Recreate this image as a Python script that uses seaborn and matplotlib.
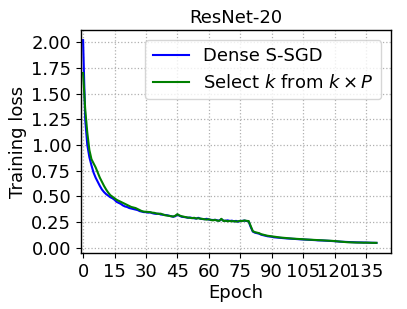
import matplotlib
matplotlib.use("Agg")
import matplotlib.pyplot as plt
import seaborn as sns
import pandas as pd
from matplotlib.ticker import MultipleLocator

epochs = list(range(0, 141))

dense_ssgd = [
    2.02, 1.25, 1.00, 0.88, 0.80, 0.73, 0.68, 0.64, 0.60, 0.565,
    0.54, 0.52, 0.505, 0.49, 0.48, 0.465, 0.445, 0.435, 0.425, 0.41,
    0.40, 0.395, 0.385, 0.38, 0.375, 0.37, 0.365, 0.355, 0.35, 0.345,
    0.345, 0.34, 0.342, 0.335, 0.33, 0.328, 0.33, 0.322, 0.32, 0.318,
    0.315, 0.31, 0.305, 0.30, 0.305, 0.32, 0.31, 0.30, 0.298, 0.295,
    0.29, 0.292, 0.288, 0.285, 0.282, 0.29, 0.28, 0.278, 0.276, 0.28,
    0.272, 0.27, 0.268, 0.27, 0.265, 0.262, 0.275, 0.262, 0.26, 0.265,
    0.258, 0.262, 0.255, 0.26, 0.252, 0.258, 0.26, 0.262, 0.258, 0.255,
    0.20, 0.155, 0.145, 0.14, 0.135, 0.125, 0.12, 0.115, 0.11, 0.108,
    0.105, 0.10, 0.098, 0.096, 0.095, 0.093, 0.09, 0.089, 0.088, 0.087,
    0.085, 0.084, 0.082, 0.081, 0.08, 0.079, 0.078, 0.077, 0.075, 0.074,
    0.073, 0.072, 0.07, 0.07, 0.069, 0.068, 0.067, 0.066, 0.065, 0.064,
    0.062, 0.06, 0.058, 0.057, 0.056, 0.055, 0.054, 0.053, 0.052, 0.052,
    0.051, 0.05, 0.05, 0.049, 0.049, 0.048, 0.048, 0.047, 0.047, 0.046,
    0.045,
]

select_k = [
    1.70, 1.35, 1.12, 0.95, 0.86, 0.82, 0.78, 0.73, 0.68, 0.64,
    0.60, 0.565, 0.535, 0.51, 0.495, 0.48, 0.465, 0.455, 0.445, 0.435,
    0.425, 0.415, 0.405, 0.395, 0.39, 0.385, 0.375, 0.365, 0.355, 0.35,
    0.348, 0.345, 0.345, 0.34, 0.338, 0.332, 0.328, 0.33, 0.322, 0.315,
    0.312, 0.308, 0.305, 0.302, 0.31, 0.325, 0.312, 0.305, 0.30, 0.296,
    0.292, 0.29, 0.286, 0.29, 0.283, 0.285, 0.282, 0.278, 0.275, 0.272,
    0.276, 0.268, 0.265, 0.27, 0.262, 0.26, 0.28, 0.258, 0.262, 0.255,
    0.26, 0.255, 0.258, 0.252, 0.256, 0.26, 0.258, 0.264, 0.26, 0.258,
    0.21, 0.16, 0.15, 0.145, 0.14, 0.13, 0.125, 0.12, 0.115, 0.112,
    0.108, 0.105, 0.102, 0.10, 0.098, 0.096, 0.094, 0.092, 0.09, 0.089,
    0.087, 0.086, 0.085, 0.083, 0.082, 0.08, 0.079, 0.078, 0.077, 0.076,
    0.075, 0.074, 0.072, 0.071, 0.07, 0.069, 0.068, 0.067, 0.066, 0.065,
    0.063, 0.061, 0.059, 0.057, 0.055, 0.053, 0.052, 0.051, 0.05, 0.05,
    0.049, 0.049, 0.048, 0.048, 0.047, 0.048, 0.047, 0.047, 0.046, 0.046,
    0.046,
]

series_labels = ["Dense S-SGD", r"Select $k$ from $k \times P$"]
series_colors = ["blue", "green"]
title = "ResNet-20"
xlabel = "Epoch"
ylabel = "Training loss"

df = pd.concat([
    pd.DataFrame({"Epoch": epochs, "loss": dense_ssgd, "method": series_labels[0]}),
    pd.DataFrame({"Epoch": epochs, "loss": select_k, "method": series_labels[1]}),
])

plt.rcParams["font.family"] = ["DejaVu Sans"]
fs = 13

fig = plt.figure(figsize=(4.07, 3.09), dpi=100)
ax = fig.add_axes([0.199, 0.181, 0.762, 0.722])

sns.lineplot(data=df, x="Epoch", y="loss", hue="method",
             palette=dict(zip(series_labels, series_colors)),
             linewidth=1.5, ax=ax)

ax.set_xlim(-1, 147)
ax.xaxis.set_major_locator(MultipleLocator(15))
ax.set_yticks([0.0, 0.25, 0.5, 0.75, 1.0, 1.25, 1.5, 1.75, 2.0])
ax.yaxis.set_major_formatter(matplotlib.ticker.FormatStrFormatter("%.2f"))
ax.grid(True, linestyle=":", color="#b0b0b0", linewidth=0.9)
ax.tick_params(labelsize=fs, length=3.5, width=0.8)
ax.set_xlabel(xlabel, fontsize=fs, labelpad=2)
ax.set_ylabel(ylabel, fontsize=fs, labelpad=3)
ax.set_title(title, fontsize=fs, pad=5)
for s in ax.spines.values():
    s.set_color("black")
    s.set_linewidth(1.0)

handles, labels = ax.get_legend_handles_labels()
ax.legend(handles, labels, loc="upper right", fontsize=fs, framealpha=0.8,
          borderaxespad=0.55)

fig.savefig("out.png", dpi=100)
